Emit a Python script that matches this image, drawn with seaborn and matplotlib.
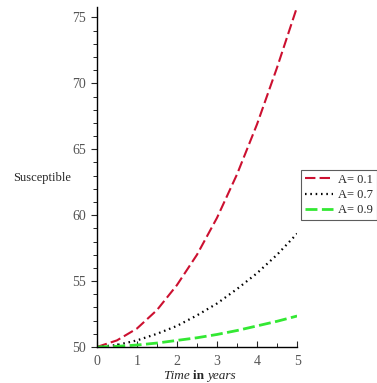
import matplotlib
matplotlib.use("Agg")
import matplotlib.pyplot as plt
import seaborn as sns
import pandas as pd
from matplotlib.ticker import MultipleLocator

t = [0, 0.5, 1, 1.5, 2, 2.5, 3, 3.5, 4, 4.5, 5]
s_a01 = [50.0, 50.5, 51.4, 52.8, 54.7, 57.0, 59.8, 63.1, 66.9, 71.2, 75.8]
s_a07 = [50.0, 50.15, 50.5, 51.0, 51.6, 52.4, 53.3, 54.4, 55.6, 57.0, 58.6]
s_a09 = [50.0, 50.05, 50.15, 50.3, 50.5, 50.7, 50.95, 51.25, 51.6, 51.95, 52.35]
labels = ["A= 0.1", "A= 0.7", "A= 0.9"]
y_ticks = [50, 55, 60, 65, 70, 75]
x_ticks = [0, 1, 2, 3, 4, 5]

sns.set_style("ticks")
plt.rcParams['font.family'] = ['Liberation Serif', 'DejaVu Serif']

fig = plt.figure(figsize=(3.77, 3.83), dpi=100)
ax = fig.add_axes([0.257, 0.094, 0.531, 0.888])

df = pd.DataFrame({"t": t, "a01": s_a01, "a07": s_a07, "a09": s_a09})
sns.lineplot(data=df, x="t", y="a01", ax=ax, color="#cc1030", lw=1.5,
             label=labels[0])
sns.lineplot(data=df, x="t", y="a07", ax=ax, color="black", lw=1.6,
             label=labels[1])
sns.lineplot(data=df, x="t", y="a09", ax=ax, color="#33e833", lw=2.0,
             label=labels[2])
lines = ax.get_lines()
lines[0].set_dashes([5, 2])
lines[1].set_linestyle((0, (0.7, 1.7)))
lines[2].set_dashes([4.3, 1.6])

ax.set_xlim(0, 5)
ax.set_ylim(50, 75.8)
ax.set_xticks(x_ticks)
ax.set_yticks(y_ticks)
ax.xaxis.set_minor_locator(MultipleLocator(0.5))
ax.yaxis.set_minor_locator(MultipleLocator(1))
ax.tick_params(axis='y', which='major', direction='out', length=4, width=0.8,
               labelsize=10, labelcolor='#555555', pad=4)
ax.tick_params(axis='y', which='minor', direction='out', length=3, width=0.7)
ax.tick_params(axis='x', which='major', direction='in', length=4, width=0.8,
               labelsize=10, labelcolor='#555555', pad=6)
ax.tick_params(axis='x', which='minor', direction='in', length=3, width=0.7)
sns.despine(ax=ax)
for sp in ['left', 'bottom']:
    ax.spines[sp].set_linewidth(1.0)
    ax.spines[sp].set_color('black')

ax.set_ylabel("")
ax.set_xlabel("")
fig.text(13 / 377, 1 - 178 / 383, "Susceptible", ha='left', va='center',
         fontsize=9)

# x label: "Time" italic, "in" bold, "years" italic
t1 = fig.text(164 / 377, 1 - 379 / 383, "Time ", ha='left', va='baseline',
              fontsize=9.5, style='italic')
t2 = ax.annotate("in ", xy=(1, 0), xycoords=t1, va='bottom', ha='left',
                 fontsize=9.5, fontweight='bold', annotation_clip=False)
t3 = ax.annotate("years", xy=(1, 0), xycoords=t2, va='bottom', ha='left',
                 fontsize=9.5, style='italic', annotation_clip=False)

leg = ax.legend(loc='upper left', bbox_to_anchor=(0.798, 0.556),
                bbox_transform=fig.transFigure, frameon=True, fancybox=False,
                fontsize=9, handlelength=2.3, handletextpad=0.4,
                borderpad=0.3, labelspacing=0.25, borderaxespad=0)
leg.get_frame().set_edgecolor('#333333')
leg.get_frame().set_linewidth(0.8)

fig.savefig("out.png", dpi=100)
